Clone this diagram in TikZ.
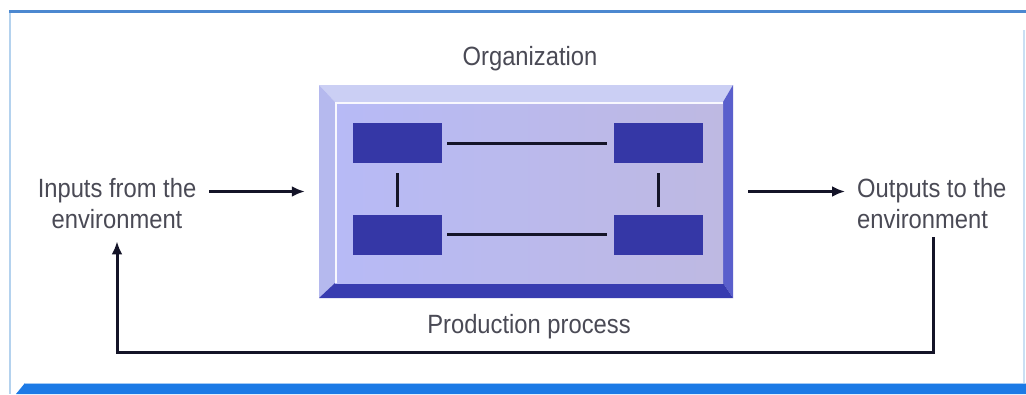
\documentclass[tikz,border=0pt]{standalone}
\usepackage{fontspec}
\setmainfont{Liberation Sans}[FakeStretch=0.9]
\usetikzlibrary{arrows.meta}
\definecolor{txt}{HTML}{4A4A55}
\definecolor{frameblue}{HTML}{4C88D0}
\definecolor{edgeblue}{HTML}{B4D2EE}
\definecolor{barblue}{HTML}{1C7AE6}
\definecolor{bevtop}{HTML}{CBCFF4}
\definecolor{bevleft}{HTML}{B5B9EE}
\definecolor{bevright}{HTML}{5A5FCC}
\definecolor{bevbot}{HTML}{383CB0}
\definecolor{faceA}{HTML}{B7BAF6}
\definecolor{faceB}{HTML}{BEB9E2}
\definecolor{unit}{HTML}{3537A6}
\definecolor{ink}{HTML}{141428}
\tikzset{
  lbl/.style={font=\fontsize{26.4}{31}\selectfont, text=txt, inner sep=0pt},
  unitbox/.style={fill=unit, draw=none, minimum width=89pt, minimum height=40pt, inner sep=0pt},
  link/.style={draw=ink, line width=3pt},
  arr/.style={draw=ink, line width=3pt, -{Latex[length=13pt,width=11pt]}},
}
\begin{document}
\begin{tikzpicture}[x=1pt,y=-1pt]
\useasboundingbox (0,0) rectangle (1026,394);
\fill[white] (0,0) rectangle (1026,394);

% slide frame
\draw[edgeblue, line width=1.5pt] (10,11) -- (10,394);
\draw[edgeblue!70, line width=1.5pt] (1024,30) -- (1024,383);
\draw[frameblue, line width=3pt] (9,11) -- (1026,11);
\fill[barblue] (16,394) -- (25,383) -- (1026,383) -- (1026,394) -- cycle;
\draw[barblue!40, line width=0.8pt] (25,383.4) -- (1026,383.4);

% bevelled organization box
\fill[bevtop] (319,85) -- (733,85) -- (723,102) -- (335,102) -- cycle;
\fill[bevleft] (319,85) -- (335,102) -- (335,283) -- (319,298) -- cycle;
\fill[bevright] (733,85) -- (733,298) -- (723,283) -- (723,102) -- cycle;
\fill[bevbot] (319,298) -- (335,283) -- (723,283) -- (733,298) -- cycle;
\shade[left color=faceA, right color=faceB] (335,102) rectangle (723,283);
\draw[white!90!faceA, line width=2pt] (336,283) -- (336,103) -- (723,103);
\node[inner sep=0pt, minimum width=414pt, minimum height=213pt] (box) at (526,191.5) {};

% production units
\node[unitbox] (tl) at (397.5,143) {};
\node[unitbox] (bl) at (397.5,234.5) {};
\node[unitbox] (tr) at (658.5,143) {};
\node[unitbox] (br) at (658.5,234.5) {};
\draw[link, shorten <=5pt, shorten >=7pt] (tl) -- (tr);
\draw[link, shorten <=5pt, shorten >=7pt] (bl) -- (br);
\draw[link, shorten <=10pt, shorten >=7pt] (tl) -- (bl);
\draw[link, shorten <=10pt, shorten >=7pt] (tr) -- (br);

% labels
\node[lbl, anchor=base] (org) at (530,65) {Organization};
\node[lbl, anchor=base] (prod) at (529,333) {Production process};
\node[lbl, align=center] (inp) at (117,204) {Inputs from the\\environment};
\node[lbl, align=left, anchor=west] (outp) at (857,204) {Outputs to the\\environment};

% flows
\draw[arr, shorten <=13pt, shorten >=14pt] (inp.east |- box.west) -- (box.west);
\draw[arr, shorten <=15pt, shorten >=12pt] (box.east) -- (outp.west |- box.east);

% feedback loop
\coordinate (fbR) at (933,352);
\coordinate (fbL) at (117,352);
\draw[arr, shorten <=8pt, shorten >=12pt]
  (outp.south -| fbR) -- (fbR) -- (fbL) -- (inp.south -| fbL);
\end{tikzpicture}
\end{document}
